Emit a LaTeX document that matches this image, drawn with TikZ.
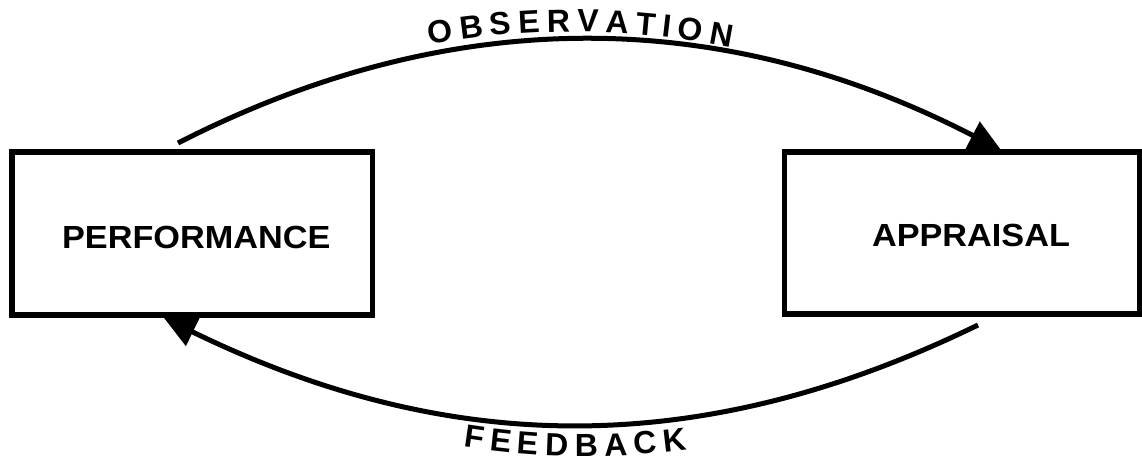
\documentclass[tikz,border=0pt]{standalone}
\usepackage{fontspec}
\setmainfont{Liberation Sans}
\newfontfamily\lab[FakeStretch=1.07]{Liberation Sans}
\newfontfamily\arcf{Liberation Sans Bold}
\usetikzlibrary{arrows.meta,decorations.text,calc}
\begin{document}
\begin{tikzpicture}[x=1pt,y=-1pt,
  box/.style={draw, line width=5.5pt, outer sep=0pt, inner sep=0pt},
  boxlabel/.style={font=\lab\bfseries\fontsize{32}{38}\selectfont, inner sep=0pt},
  conn/.style={line width=5pt, -{Triangle[length=32pt,width=30pt]}},
  arctext/.style={decorate, decoration={text along path, text align=center, text={#1}}}]
\useasboundingbox (0,0) rectangle (1142,461);
\node[box, minimum width=360.5pt, minimum height=163pt,
  label={[boxlabel, xshift=4pt, yshift=-3.5pt]center:PERFORMANCE}] (perf) at (192.25,233.5) {};
\node[box, minimum width=355.5pt, minimum height=162pt,
  label={[boxlabel, xshift=8.75pt, yshift=-2pt]center:APPRAISAL}] (app) at (962.25,233) {};
\coordinate (o1) at ($(perf.north west)+(166,-9)$);
\coordinate (f1) at ($(app.south west)+(193.5,11)$);
\draw[conn] (o1) .. controls (454,2) and (724,7) .. ($(app.north west)+(216.5,-2)$);
\draw[conn] (f1) .. controls (697,462) and (445,455) .. ($(perf.south west)+(152,3)$);
\path[arctext={|\arcf\fontsize{32}{36}\selectfont\fontdimen2\font=6.8pt\fontdimen3\font=0pt\fontdimen4\font=0pt|O B S E R V A T I O N}]
  (169,135) .. controls (445,-6) and (715,-1) .. (991,140);
\path[arctext={|\arcf\fontsize{32}{36}\selectfont\fontdimen2\font=6.7pt\fontdimen3\font=0pt\fontdimen4\font=0pt|F E E D B A C K}]
  (169,350) .. controls (449,487) and (701,494) .. (982,357);
\end{tikzpicture}
\end{document}
